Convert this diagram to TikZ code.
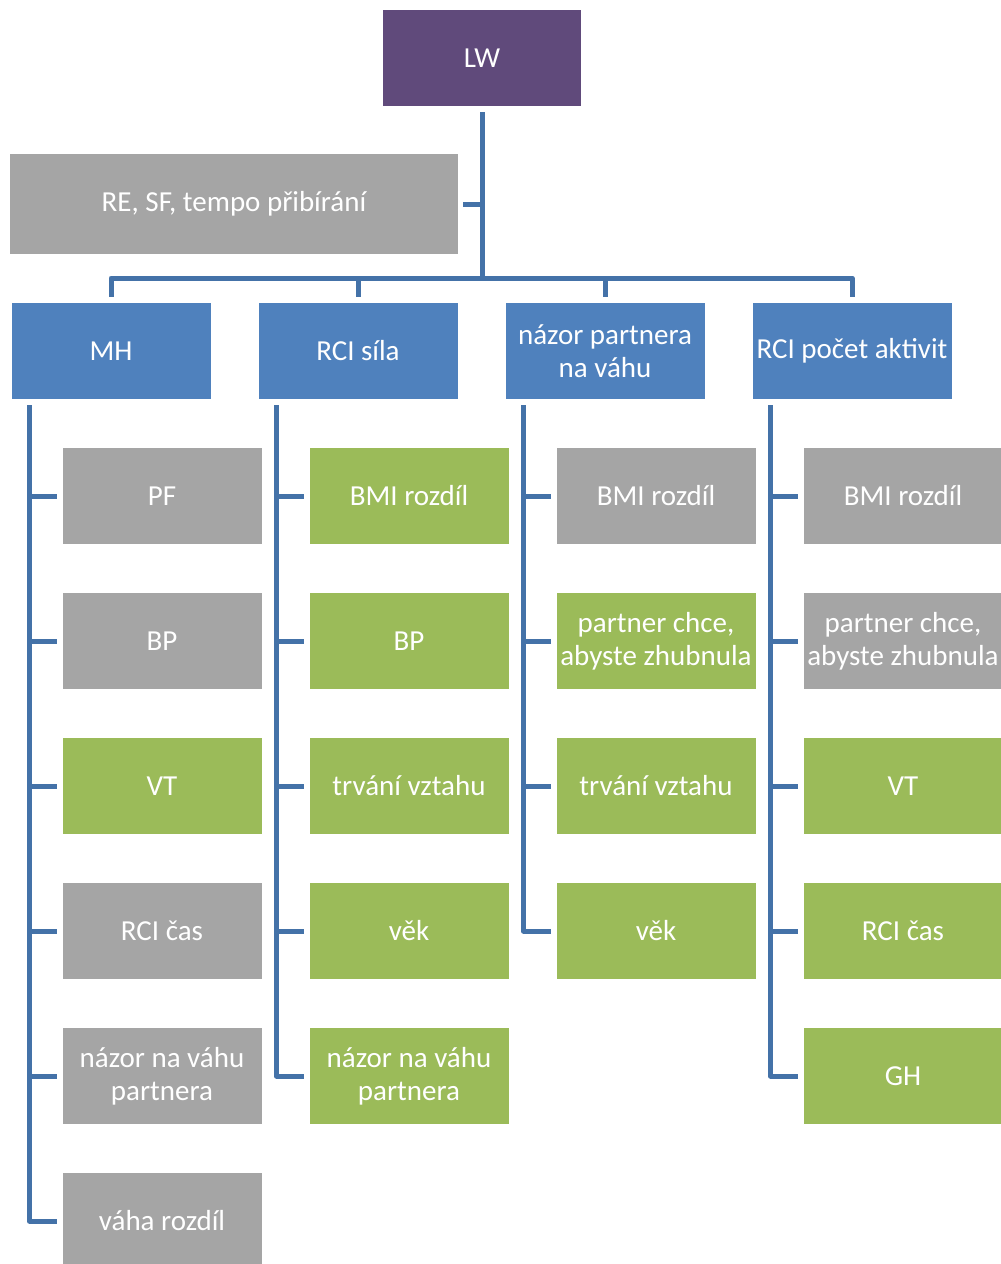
\documentclass[tikz,border=0pt]{standalone}
\usepackage{fontspec}
\setmainfont{Carlito}
\definecolor{lwpurple}{RGB}{96,74,123}
\definecolor{lvblue}{RGB}{79,129,189}
\definecolor{lvgreen}{RGB}{155,187,89}
\definecolor{lvgray}{RGB}{165,165,165}
\definecolor{connblue}{RGB}{68,114,168}
\begin{document}
\begin{tikzpicture}[x=1pt,y=-1pt,
    font=\fontsize{29}{33}\selectfont,
    box/.style={rectangle,text=white,align=center,inner sep=1pt,
      minimum width=199pt,minimum height=96pt},
    topbox/.style={box,fill=lwpurple},
    midbox/.style={box,fill=lvblue},
    gbox/.style={box,fill=lvgreen},
    ybox/.style={box,fill=lvgray},
    conn/.style={draw=connblue,line width=5pt,line join=round}]
  \fill[white] (0,0) rectangle (1001,1264);
  \useasboundingbox (0,0) rectangle (1001,1264);
  % top level
  \node[topbox,minimum width=198pt] (lw) at (482,58) {LW};
  \node[ybox,minimum width=448pt,minimum height=100pt] (re) at (234,204) {RE, SF, tempo přibírání};
  \coordinate (bus) at (482,278);
  % second level
  \node[midbox] (mh) at (111,351) {MH};
  \node[midbox] (sila) at (358,351) {RCI síla};
  \node[midbox] (nazor) at (605,351) {názor partnera\\na váhu};
  \node[midbox] (pocet) at (852,351) {RCI počet aktivit};
  \draw[conn] ([yshift=-6pt]lw.south) -- (bus);
  \draw[conn] (bus |- re.east) -- ([xshift=5pt]re.east);
  \foreach \p in {mh,sila,nazor,pocet}
    \draw[conn] (bus) -| ([yshift=6pt]\p.north);
  % (1): MH
  \node[ybox] (mhA) at (162,496) {PF};
  \node[ybox] (mhB) at (162,641) {BP};
  \node[gbox] (mhC) at (162,786) {VT};
  \node[ybox] (mhD) at (162,931) {RCI čas};
  \node[ybox] (mhE) at (162,1076) {názor na váhu\\partnera};
  \node[ybox] (mhF) at (162,1221) {váha rozdíl};
  \foreach \c in {mhA,mhB,mhC,mhD,mhE,mhF}
    \draw[conn] ([xshift=18pt,yshift=-6pt]mh.south west) |- ([xshift=-5pt]\c.west);
  % (2): RCI sila
  \node[gbox] (siA) at (409,496) {BMI rozdíl};
  \node[gbox] (siB) at (409,641) {BP};
  \node[gbox] (siC) at (409,786) {trvání vztahu};
  \node[gbox] (siD) at (409,931) {věk};
  \node[gbox] (siE) at (409,1076) {názor na váhu\\partnera};
  \foreach \c in {siA,siB,siC,siD,siE}
    \draw[conn] ([xshift=18pt,yshift=-6pt]sila.south west) |- ([xshift=-5pt]\c.west);
  % (3): nazor partnera
  \node[ybox] (naA) at (656,496) {BMI rozdíl};
  \node[gbox] (naB) at (656,641) {partner chce,\\abyste zhubnula};
  \node[gbox] (naC) at (656,786) {trvání vztahu};
  \node[gbox] (naD) at (656,931) {věk};
  \foreach \c in {naA,naB,naC,naD}
    \draw[conn] ([xshift=18pt,yshift=-6pt]nazor.south west) |- ([xshift=-5pt]\c.west);
  % (4): RCI pocet aktivit
  \node[ybox] (poA) at (903,496) {BMI rozdíl};
  \node[ybox] (poB) at (903,641) {partner chce,\\abyste zhubnula};
  \node[gbox] (poC) at (903,786) {VT};
  \node[gbox] (poD) at (903,931) {RCI čas};
  \node[gbox] (poE) at (903,1076) {GH};
  \foreach \c in {poA,poB,poC,poD,poE}
    \draw[conn] ([xshift=18pt,yshift=-6pt]pocet.south west) |- ([xshift=-5pt]\c.west);
\end{tikzpicture}
\end{document}
